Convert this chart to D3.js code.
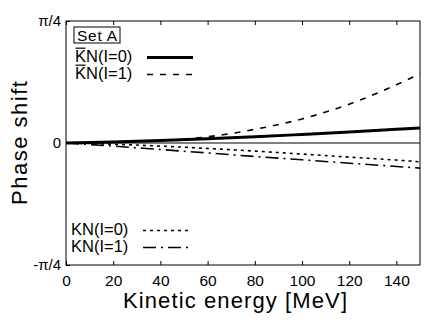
<!DOCTYPE html>
<html>
<head>
<meta charset="utf-8">
<script src="https://cdn.jsdelivr.net/npm/d3@7"></script>
<style>
  body { margin: 0; background: #fff; }
  text { font-family: "Liberation Sans", Arial, Helvetica, sans-serif; fill: #000; }
</style>
</head>
<body>
<div id="chart"></div>
<script>
// Kinetic energy grid [MeV]
const energy = [0, 20, 40, 60, 80, 100, 120, 140, 150];
// Phase shifts [rad]
const kbarN_I0 = [0, 0.007, 0.016, 0.027, 0.040, 0.055, 0.071, 0.088, 0.097];
const kbarN_I1 = [0, 0.004, 0.015, 0.040, 0.088, 0.155, 0.250, 0.375, 0.445];
const kN_I0 = [0, -0.008, -0.020, -0.035, -0.052, -0.071, -0.091, -0.110, -0.121];
const kN_I1 = [0, -0.020, -0.042, -0.064, -0.087, -0.108, -0.130, -0.151, -0.162];

const xTicks = [0, 20, 40, 60, 80, 100, 120, 140];
const yTicks = [-Math.PI / 4, 0, Math.PI / 4];
const yTickLabels = ["-\u03c0/4", "0", "\u03c0/4"];

const W = 436, H = 327;
const margin = { top: 21, right: 16, bottom: 62, left: 66 },
      width = W - margin.left - margin.right,
      height = H - margin.top - margin.bottom;

const svg = d3.select("#chart")
    .append("svg")
    .attr("width", W)
    .attr("height", H);

const g = svg.append("g")
    .attr("transform", `translate(${margin.left},${margin.top})`);

const x = d3.scaleLinear().domain([0, 150]).range([0, width]);
const y = d3.scaleLinear().domain([-Math.PI / 4, Math.PI / 4]).range([height, 0]);

// zero line
g.append("line")
    .attr("x1", 0).attr("x2", width)
    .attr("y1", y(0)).attr("y2", y(0))
    .attr("stroke", "#000").attr("stroke-width", 1.2);

// frame
g.append("rect")
    .attr("width", width).attr("height", height)
    .attr("fill", "none").attr("stroke", "#000").attr("stroke-width", 1);

// bottom axis (inward ticks)
const xAxis = g.append("g")
    .attr("transform", `translate(0,${height})`)
    .call(d3.axisBottom(x).tickValues(xTicks).tickSizeInner(-4).tickSizeOuter(0).tickPadding(10));
xAxis.select(".domain").remove();
xAxis.selectAll("text").attr("font-size", 15.5).attr("font-family", "Liberation Sans, Arial, sans-serif");

// top ticks
const xTop = g.append("g")
    .call(d3.axisTop(x).tickValues(xTicks).tickSizeInner(-4).tickSizeOuter(0).tickFormat(""));
xTop.select(".domain").remove();

// left axis
const yAxis = g.append("g")
    .call(d3.axisLeft(y).tickValues(yTicks).tickSizeInner(-4).tickSizeOuter(0).tickPadding(5)
        .tickFormat((d, i) => yTickLabels[i]));
yAxis.select(".domain").remove();
yAxis.selectAll("text").attr("font-size", 15).attr("font-family", "Liberation Sans, Arial, sans-serif");

// series
const series = [
    { label: "KN(I=0)", bar: true, values: kbarN_I0, width: 3, dash: null },
    { label: "KN(I=1)", bar: true, values: kbarN_I1, width: 1.6, dash: "6,7" },
    { label: "KN(I=0)", bar: false, values: kN_I0, width: 1.6, dash: "3,4" },
    { label: "KN(I=1)", bar: false, values: kN_I1, width: 1.6, dash: "13,5,2,5" }
];

const line = d3.line()
    .x(d => x(d[0]))
    .y(d => y(d[1]))
    .curve(d3.curveMonotoneX);

svg.append("clipPath").attr("id", "clip")
    .append("rect").attr("width", width).attr("height", height);

g.append("g").attr("clip-path", "url(#clip)")
    .selectAll("path.series")
    .data(series)
    .enter()
    .append("path")
    .attr("class", "series")
    .attr("d", s => line(energy.map((e, i) => [e, s.values[i]])))
    .attr("fill", "none")
    .attr("stroke", "#000")
    .attr("stroke-width", s => s.width)
    .attr("stroke-dasharray", s => s.dash);

// "Set A" box
const setA = g.append("g").attr("transform", "translate(8,6)");
setA.append("rect")
    .attr("width", 46).attr("height", 16)
    .attr("fill", "#fff").attr("stroke", "#000").attr("stroke-width", 1);
setA.append("text")
    .attr("x", 3).attr("y", 13.5)
    .attr("font-size", 15.5)
    .attr("textLength", 40)
    .text("Set A");

// legends
const legendPos = [
    { tx: 9, ty: 41, lx0: 81, lx1: 127 },
    { tx: 9, ty: 58, lx0: 81, lx1: 127 },
    { tx: 5, ty: 214, lx0: 77, lx1: 122 },
    { tx: 5, ty: 231, lx0: 77, lx1: 122 }
];
const fs = 16.5;
series.forEach((s, i) => {
    const p = legendPos[i];
    const lg = g.append("g");
    lg.append("text")
        .attr("x", p.tx).attr("y", p.ty)
        .attr("font-size", fs)
        .text(s.label);
    if (s.bar) {
        lg.append("line")
            .attr("x1", p.tx + 0.5).attr("x2", p.tx + 0.667 * fs - 0.5)
            .attr("y1", p.ty - 0.716 * fs - 2).attr("y2", p.ty - 0.716 * fs - 2)
            .attr("stroke", "#000").attr("stroke-width", 1.2);
    }
    lg.append("line")
        .attr("x1", p.lx0).attr("x2", p.lx1)
        .attr("y1", p.ty - 4.5).attr("y2", p.ty - 4.5)
        .attr("stroke", "#000")
        .attr("stroke-width", s.width)
        .attr("stroke-dasharray", s.dash);
});

// axis titles
svg.append("text")
    .attr("x", 235).attr("y", 308)
    .attr("text-anchor", "middle")
    .attr("font-size", 22)
    .attr("textLength", 224)
    .text("Kinetic energy [MeV]");

svg.append("text")
    .attr("transform", `translate(27,${margin.top + height / 2}) rotate(-90)`)
    .attr("text-anchor", "middle")
    .attr("font-size", 22)
    .attr("textLength", 124)
    .text("Phase shift");
</script>
</body>
</html>
